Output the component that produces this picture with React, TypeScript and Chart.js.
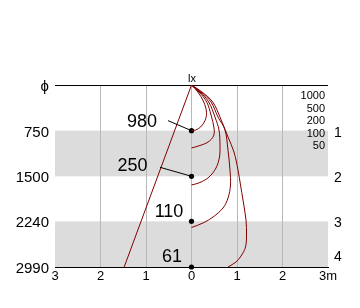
import React, { useEffect, useRef } from 'react';
import { Chart, registerables } from 'chart.js';

Chart.register(...registerables);

// ---- data ----
const DEPTH_TICKS = [0, 750, 1500, 2240, 2990];
const DEPTH_LABELS = ['ϕ', '750', '1500', '2240', '2990'];
const ZONE_DEPTHS = [750, 1500, 2240, 2990];
const ZONE_LABELS = ['1', '2', '3', '4'];
const CENTER_LUX = ['980', '250', '110', '61'];
const BAND_FROM = [750, 2240];
const BAND_TO = [1500, 2990];
const ISO_LEVELS = ['1000', '500', '200', '100', '50'];
const X_MIN = -3;
const X_MAX = 3;

const CONE_X = [0, -1.48];
const CONE_Y = [0, 2990];

const ISO_1000_X = [0, 0.14, 0.27, 0.33, 0.3, 0.2, 0.09, 0];
const ISO_1000_Y = [0, 115, 280, 450, 580, 690, 740, 750];
const ISO_500_X = [0, 0.165, 0.334, 0.429, 0.495, 0.484, 0.363, 0.187, 0];
const ISO_500_Y = [0, 115, 279, 493, 707, 838, 937, 994, 1035];
const ISO_200_X = [0, 0.187, 0.378, 0.516, 0.604, 0.626, 0.615, 0.538, 0.385, 0.187, 0];
const ISO_200_Y = [0, 115, 279, 526, 739, 986, 1183, 1364, 1512, 1602, 1643];
const ISO_100_X = [0, 0.209, 0.429, 0.582, 0.736, 0.802, 0.846, 0.857, 0.802, 0.692, 0.473, 0.253, 0];
const ISO_100_Y = [0, 115, 279, 526, 739, 1068, 1397, 1643, 1857, 2021, 2169, 2267, 2341];
const ISO_50_X = [0, 0.231, 0.466, 0.626, 0.802, 0.934, 1.022, 1.077, 1.132, 1.198, 1.209, 1.187, 1.088, 0.978, 0.802];
const ISO_50_Y = [0, 115, 279, 526, 854, 1101, 1397, 1643, 1890, 2218, 2465, 2662, 2810, 2908, 2990];

const RED = '#800000';
const FONT = '"Liberation Sans", Arial, sans-serif';

const pts = (xs: number[], ys: number[]) => xs.map((x, i) => ({ x, y: ys[i] }));

const curve = (xs: number[], ys: number[]) => ({
  type: 'line' as const,
  data: pts(xs, ys),
  borderColor: RED,
  borderWidth: 1,
  pointRadius: 0,
  showLine: true,
  tension: 0.35,
  fill: false,
});

const overlay = {
  id: 'overlay',
  beforeDraw(chart: any) {
    const { ctx, chartArea, scales } = chart;
    const y = scales.y;
    ctx.save();
    ctx.fillStyle = '#dcdcdc';
    BAND_FROM.forEach((a, i) => {
      const ya = y.getPixelForValue(a);
      const yb = y.getPixelForValue(BAND_TO[i]);
      ctx.fillRect(chartArea.left, ya, chartArea.right - chartArea.left, yb - ya);
    });
    ctx.restore();
  },
  afterDatasetsDraw(chart: any) {
    const { ctx, chartArea, scales } = chart;
    const x = scales.x;
    const y = scales.y;
    const x0 = x.getPixelForValue(0);
    ctx.save();
    ctx.fillStyle = '#000';
    ctx.strokeStyle = '#000';
    ctx.lineWidth = 1;
    // leader lines for first two labels
    const leaders = [
      [-23.5, -10],
      [-31.5, -9],
    ];
    leaders.forEach(([dx, dy], i) => {
      const py = y.getPixelForValue(ZONE_DEPTHS[i]);
      ctx.beginPath();
      ctx.moveTo(x0 + dx, py + dy);
      ctx.lineTo(x0, py);
      ctx.stroke();
    });
    // center illuminance labels
    const offs = [
      [-49.5, -9],
      [-59, -10],
      [-22.5, -9],
      [-19.5, -10],
    ];
    ctx.font = `18px ${FONT}`;
    ctx.textAlign = 'center';
    ctx.textBaseline = 'middle';
    CENTER_LUX.forEach((t, i) => {
      const py = y.getPixelForValue(ZONE_DEPTHS[i]);
      ctx.fillText(t, x0 + offs[i][0], py + offs[i][1]);
    });
    // lx label
    ctx.font = `11px ${FONT}`;
    ctx.textAlign = 'center';
    ctx.fillText('lx', x0 + 0.5, chartArea.top - 6);
    // iso legend
    ctx.font = `11px "Liberation Sans Narrow", ${FONT}`;
    ctx.textAlign = 'right';
    ISO_LEVELS.forEach((t, i) => {
      ctx.fillText(t, chartArea.right - 3, chartArea.top + 11 + i * 12.5);
    });
    ctx.restore();
  },
};

export default function App() {
  const ref = useRef<HTMLCanvasElement | null>(null);
  useEffect(() => {
    if (!ref.current) return;
    const chart = new Chart(ref.current, {
      type: 'scatter',
      data: {
        datasets: [
          {
            type: 'line',
            data: pts(CONE_X, CONE_Y),
            borderColor: RED,
            borderWidth: 1,
            pointRadius: 0,
            showLine: true,
            fill: false,
          },
          curve(ISO_1000_X, ISO_1000_Y),
          curve(ISO_500_X, ISO_500_Y),
          curve(ISO_200_X, ISO_200_Y),
          curve(ISO_100_X, ISO_100_Y),
          curve(ISO_50_X, ISO_50_Y),
          {
            type: 'scatter',
            data: ZONE_DEPTHS.map((d) => ({ x: 0, y: d })),
            backgroundColor: '#000',
            borderColor: '#000',
            borderWidth: 0,
            pointRadius: 2.6,
            pointHoverRadius: 2.6,
            showLine: false,
            clip: false,
          },
        ] as any,
      },
      options: {
        animation: false,
        responsive: false,
        events: [],
        layout: { padding: { top: 85, left: 0, right: 0, bottom: 0 } },
        plugins: { legend: { display: false }, tooltip: { enabled: false } },
        scales: {
          x: {
            type: 'linear',
            min: X_MIN,
            max: X_MAX,
            afterFit: (s: any) => {
              s.height = 41;
            },
            ticks: {
              stepSize: 1,
              autoSkip: false,
              maxRotation: 0,
              padding: 2,
              color: '#000',
              font: { family: FONT, size: 13 },
              callback: (v: any) => (v === X_MAX ? '3m' : String(Math.abs(Number(v)))),
            },
            grid: {
              drawTicks: false,
              color: (c: any) =>
                c.tick && (c.tick.value === X_MIN || c.tick.value === X_MAX) ? 'rgba(0,0,0,0)' : '#b8b8b8',
            },
            border: { display: true, color: '#000' },
          },
          y: {
            type: 'linear',
            position: 'left',
            reverse: true,
            min: 0,
            max: 2990,
            afterFit: (s: any) => {
              s.width = 55;
            },
            afterBuildTicks: (s: any) => {
              s.ticks = DEPTH_TICKS.map((v) => ({ value: v }));
            },
            ticks: {
              padding: 6,
              labelOffset: 2,
              color: '#000',
              font: { family: FONT, size: 15 },
              callback: (_v: any, i: number) => DEPTH_LABELS[i],
            },
            grid: {
              drawTicks: false,
              color: (c: any) =>
                c.tick && (c.tick.value === 0 || c.tick.value === 2990) ? '#000' : 'rgba(0,0,0,0)',
            },
            border: { display: false },
          },
          y2: {
            type: 'linear',
            position: 'right',
            reverse: true,
            min: 0,
            max: 2990,
            afterFit: (s: any) => {
              s.width = 32;
            },
            afterBuildTicks: (s: any) => {
              s.ticks = ZONE_DEPTHS.map((v, i) => ({ value: i === ZONE_DEPTHS.length - 1 ? v - 190 : v }));
            },
            ticks: {
              padding: 6,
              labelOffset: 2,
              color: '#000',
              font: { family: FONT, size: 14 },
              callback: (_v: any, i: number) => ZONE_LABELS[i],
            },
            grid: { display: false, drawTicks: false },
            border: { display: false },
          },
        },
      } as any,
      plugins: [overlay],
    });
    return () => chart.destroy();
  }, []);
  return (
    <canvas
      ref={ref}
      width={360}
      height={308}
      style={{ position: 'fixed', left: 0, top: 0, width: 360, height: 308, background: '#fff' }}
    />
  );
}
